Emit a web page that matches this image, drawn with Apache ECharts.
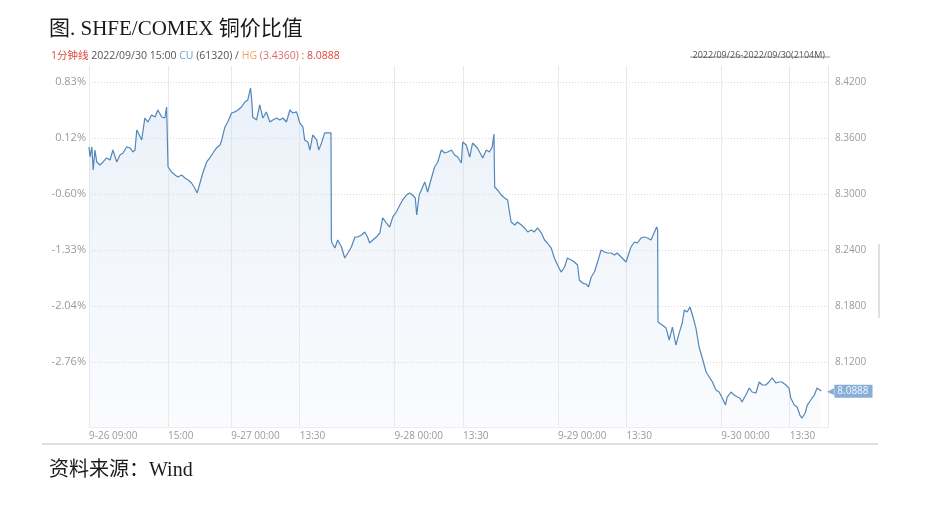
<!DOCTYPE html>
<html>
<head>
<meta charset="utf-8">
<title>SHFE/COMEX 铜价比值</title>
<script src="https://cdn.jsdelivr.net/npm/echarts@6/dist/echarts.min.js"></script>
<style>
html, body { margin: 0; padding: 0; background: #fff; }
#chart { width: 940px; height: 505px; }
</style>
</head>
<body>
<div id="chart"></div>
<script>
// trading minute since 9-26 09:00 (day + night sessions, 1 min bars)
const minutes = [
    0, 3, 8, 12, 17, 22, 31, 40, 50, 60, 68, 79, 88, 97, 107, 117, 125, 131, 136, 139, 150, 159, 168, 178, 188, 196, 207, 216, 221, 224,
    225, 235, 245, 253, 264, 273, 282, 292, 301, 308, 316, 324, 335, 344, 353, 363, 373, 378, 387, 395, 406, 415, 424, 434, 444, 452, 460, 464,
    466, 477, 486, 495, 505, 515, 523, 534, 543, 552, 562, 572, 580, 591, 600, 609, 614, 623, 629, 637, 648, 654, 662, 671, 680, 689,
    690, 692, 700, 708, 719, 728, 737, 747, 757, 765, 776, 785, 793, 799, 808, 818, 828, 836, 847, 856, 865, 875, 885, 893, 904, 913, 921, 929,
    933, 940, 956, 964, 975, 984, 993, 1003, 1013, 1021, 1032, 1041, 1050, 1060, 1064, 1074, 1084, 1092, 1106, 1121, 1131, 1140, 1148, 1153,
    1155, 1163, 1174, 1183, 1192, 1197, 1202, 1212, 1220, 1231, 1240, 1249, 1259, 1268, 1277, 1288, 1297, 1305, 1316, 1325, 1334, 1344, 1354, 1362, 1373, 1382, 1391,
    1396, 1405, 1415, 1422, 1430, 1439, 1448, 1458, 1468, 1476, 1487, 1496, 1504, 1515, 1529, 1543, 1553, 1561, 1572, 1581, 1590, 1600, 1604, 1610, 1616, 1619,
    1620, 1624, 1632, 1643, 1652, 1661, 1671, 1681, 1689, 1695, 1703, 1711, 1718, 1728, 1737, 1746, 1757, 1766, 1775, 1785, 1794, 1803, 1812, 1817, 1828, 1837, 1846, 1853, 1859,
    1870, 1880, 1888, 1899, 1908, 1917, 1927, 1936, 1945, 1956, 1965, 1973, 1984, 1993, 1998, 2008, 2016, 2024, 2030, 2039, 2045, 2055, 2065, 2073, 2081, 2085
];
const ratio = [
    8.3504, 8.3396, 8.3504, 8.3257, 8.3471, 8.3343, 8.3311, 8.3343, 8.3386, 8.3364, 8.3471, 8.3343, 8.3418, 8.3439, 8.3504, 8.3493, 8.3450, 8.3471, 8.3686, 8.3664, 8.3579, 8.3814, 8.3771, 8.3846, 8.3825, 8.3900, 8.3825, 8.3814, 8.3932, 8.3921,
    8.3289, 8.3236, 8.3204, 8.3182, 8.3204, 8.3171, 8.3150, 8.3118, 8.3064, 8.3011, 8.3118, 8.3225, 8.3343, 8.3386, 8.3439, 8.3493, 8.3525, 8.3579, 8.3718, 8.3771, 8.3868, 8.3879, 8.3900, 8.3932, 8.3986, 8.4007, 8.4136, 8.3975,
    8.3825, 8.3793, 8.3954, 8.3814, 8.3879, 8.3771, 8.3793, 8.3814, 8.3793, 8.3814, 8.3771, 8.3900, 8.3868, 8.3879, 8.3761, 8.3718, 8.3579, 8.3557, 8.3471, 8.3632, 8.3579, 8.3471, 8.3546, 8.3654, 8.3654, 8.3654,
    8.2507, 8.2475, 8.2421, 8.2507, 8.2432, 8.2314, 8.2368, 8.2432, 8.2539, 8.2539, 8.2561, 8.2593, 8.2539, 8.2475, 8.2507, 8.2539, 8.2582, 8.2743, 8.2689, 8.2646, 8.2754, 8.2807, 8.2882, 8.2936, 8.2989, 8.3011, 8.2989, 8.2957,
    8.2775, 8.2989, 8.3129, 8.3021, 8.3171, 8.3289, 8.3343, 8.3471, 8.3439, 8.3450, 8.3471, 8.3418, 8.3396, 8.3332, 8.3557, 8.3525, 8.3396, 8.3546, 8.3493, 8.3386, 8.3471, 8.3450, 8.3504, 8.3643,
    8.3075, 8.3043, 8.2989, 8.2957, 8.2936, 8.2807, 8.2700, 8.2668, 8.2700, 8.2668, 8.2636, 8.2593, 8.2614, 8.2593, 8.2636, 8.2582, 8.2507, 8.2475, 8.2421, 8.2314, 8.2239, 8.2164, 8.2218, 8.2314, 8.2293, 8.2271, 8.2239,
    8.2079, 8.2046, 8.2036, 8.2004, 8.2111, 8.2164, 8.2271, 8.2400, 8.2379, 8.2368, 8.2368, 8.2346, 8.2368, 8.2325, 8.2271, 8.2432, 8.2486, 8.2475, 8.2529, 8.2539, 8.2529, 8.2507, 8.2486, 8.2593, 8.2646, 8.2614,
    8.1629, 8.1618, 8.1596, 8.1564, 8.1436, 8.1575, 8.1382, 8.1521, 8.1618, 8.1757, 8.1736, 8.1789, 8.1704, 8.1564, 8.1361, 8.1243, 8.1093, 8.1039, 8.0986, 8.0900, 8.0879, 8.0814, 8.0739, 8.0825, 8.0879, 8.0846, 8.0825, 8.0814, 8.0771,
    8.0846, 8.0921, 8.0879, 8.0868, 8.0986, 8.0954, 8.0954, 8.0986, 8.1029, 8.0975, 8.0986, 8.0986, 8.0954, 8.0921, 8.0814, 8.0739, 8.0718, 8.0632, 8.0600, 8.0654, 8.0739, 8.0793, 8.0846, 8.0921, 8.0900, 8.0888
];

const xTickMinutes = [0, 225, 405, 600, 870, 1065, 1335, 1530, 1800, 1995];
const xTickLabels = ['9-26 09:00', '15:00', '9-27 00:00', '13:30', '9-28 00:00', '13:30', '9-29 00:00', '13:30', '9-30 00:00', '13:30'];
const ratioTicks = [8.12, 8.18, 8.24, 8.30, 8.36, 8.42];
const pctLabels = ['-2.76%', '-2.04%', '-1.33%', '-0.60%', '0.12%', '0.83%'];
const totalMinutes = 2104;
const yMin = 8.0504, yMax = 8.4371;

const labelFont = "'Open Sans', 'Noto Sans CJK SC', sans-serif";
const serifFont = "'Liberation Serif', 'Noto Sans CJK SC', serif";

function richPart(color) {
    return { color: color, fontSize: 10.5, fontWeight: 'normal', fontFamily: labelFont };
}

const chart = echarts.init(document.getElementById('chart'));
const option = {
    animation: false,
    title: [
        {
            text: '图. SHFE/COMEX 铜价比值',
            left: 44, top: 14,
            textStyle: { fontFamily: serifFont, fontSize: 21, fontWeight: 'normal', color: '#1a1a1a' }
        },
        {
            text: '{r|1分钟线} {g|2022/09/30 15:00} {b|CU} {g|(61320) /} {o|HG} {p|(3.4360)} {r|: 8.0888}',
            left: 46, top: 46,
            textStyle: {
                fontFamily: labelFont, fontSize: 10.5, fontWeight: 'normal',
                rich: {
                    r: richPart('#e0473e'),
                    g: richPart('#555555'),
                    b: richPart('#6d9ccb'),
                    o: richPart('#f0a55c'),
                    p: richPart('#e06c6c')
                }
            }
        },
        {
            text: '2022/09/26-2022/09/30(2104M)',
            right: 110, top: 46,
            textStyle: { fontFamily: labelFont, fontSize: 9, fontWeight: 'normal', color: '#555555' }
        },
        {
            text: '资料来源：Wind',
            left: 44, top: 456,
            textStyle: { fontFamily: serifFont, fontSize: 20, fontWeight: 'normal', color: '#1a1a1a' }
        }
    ],
    grid: { left: 89, right: 112, top: 66, bottom: 78 },
    xAxis: {
        type: 'value',
        min: 0,
        max: totalMinutes,
        axisLine: { show: true, lineStyle: { color: '#eeeeee' } },
        axisTick: { show: false, customValues: xTickMinutes.concat([totalMinutes]) },
        axisLabel: {
            customValues: xTickMinutes,
            formatter: v => xTickLabels[xTickMinutes.indexOf(v)] || '',
            align: 'left',
            margin: 4,
            color: '#9a9a9a',
            fontSize: 10,
            fontFamily: labelFont
        },
        splitLine: { show: true, lineStyle: { color: '#e8e8e8' } }
    },
    yAxis: [
        {
            type: 'value',
            position: 'right',
            min: yMin,
            max: yMax,
            axisLine: { show: false },
            axisTick: { show: false, customValues: ratioTicks },
            axisLabel: {
                customValues: ratioTicks,
                formatter: v => v.toFixed(4),
                margin: 7,
                color: '#9a9a9a',
                fontSize: 10,
                fontFamily: labelFont
            },
            splitLine: { show: true, lineStyle: { color: '#d8d8d8', type: [1, 2] } }
        },
        {
            type: 'value',
            position: 'left',
            min: yMin,
            max: yMax,
            axisLine: { show: false },
            axisTick: { show: false, customValues: ratioTicks },
            axisLabel: {
                customValues: ratioTicks,
                formatter: v => pctLabels[ratioTicks.indexOf(v)] || '',
                margin: 3,
                color: '#9a9a9a',
                fontSize: 11,
                fontFamily: labelFont
            },
            splitLine: { show: false }
        }
    ],
    series: [{
        type: 'line',
        yAxisIndex: 0,
        data: minutes.map((m, i) => [m, ratio[i]]),
        showSymbol: false,
        lineStyle: { color: '#5287bb', width: 1.2 },
        areaStyle: {
            origin: 'start',
            color: new echarts.graphic.LinearGradient(0, 0, 0, 1, [
                { offset: 0, color: 'rgba(200,218,238,0.55)' },
                { offset: 1, color: 'rgba(232,240,249,0.35)' }
            ])
        },
        endLabel: {
            show: true,
            distance: 6,
            formatter: p => '{a|◀}{b|' + p.value[1].toFixed(4) + '}',
            rich: {
                a: { color: '#88aed7', fontSize: 9 },
                b: { backgroundColor: '#88aed7', color: '#f2f7fc', fontSize: 10, fontFamily: labelFont, padding: [2, 4, 1, 3] }
            }
        }
    }],
    graphic: [
        { type: 'line', shape: { x1: 42, y1: 444, x2: 878, y2: 444 }, style: { stroke: '#d4d4d4', lineWidth: 1.5 } },
        { type: 'line', shape: { x1: 879, y1: 244, x2: 879, y2: 318 }, style: { stroke: '#e0e0e0', lineWidth: 2 } },
        { type: 'line', shape: { x1: 690, y1: 57, x2: 830, y2: 57 }, style: { stroke: '#777777', lineWidth: 0.8 } }
    ]
};
chart.setOption(option);
</script>
</body>
</html>
